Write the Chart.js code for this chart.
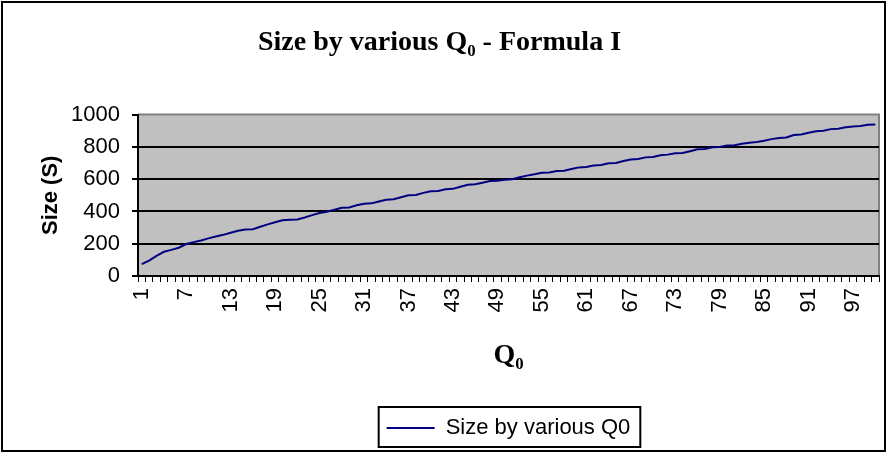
<!DOCTYPE html>
<html>
<head>
<meta charset="utf-8">
<script src="https://cdn.jsdelivr.net/npm/chart.js@4.4.1/dist/chart.umd.min.js"></script>
<style>
html, body { margin: 0; padding: 0; background: #fff; }
</style>
</head>
<body>
<canvas id="chart" width="888" height="454"></canvas>
<script>
// Q0 runs 1..100
const categories = Array.from({length: 100}, (_, i) => String(i + 1));

// Size (S)
const sizeValues = [
    73, 95, 125, 150, 162, 175, 198, 210, 220, 233,
    245, 255, 268, 280, 288, 290, 305, 320, 333, 345,
    348, 350, 362, 377, 390, 398, 410, 423, 425, 438,
    448, 450, 462, 473, 475, 488, 500, 502, 515, 525,
    527, 537, 540, 553, 565, 568, 578, 588, 590, 597,
    600, 612, 622, 630, 640, 642, 650, 652, 663, 673,
    675, 685, 688, 698, 700, 712, 722, 725, 735, 737,
    748, 752, 760, 762, 773, 785, 787, 798, 800, 808,
    810, 820, 825, 830, 838, 848, 855, 858, 873, 877,
    888, 897, 900, 910, 913, 922, 927, 930, 937, 938
];

const xTickLabels = ["1", "7", "13", "19", "25", "31", "37", "43", "49", "55", "61", "67", "73", "79", "85", "91", "97"];
const yTicks = [0, 200, 400, 600, 800, 1000];

const sans = "'Liberation Sans', Arial, sans-serif";
const serif = "'Liberation Serif', 'Times New Roman', serif";

const excelLook = {
    id: 'excelLook',
    beforeDraw(chart) {
        const ctx = chart.ctx;
        const a = chart.chartArea;
        ctx.save();
        ctx.fillStyle = '#fff';
        ctx.fillRect(0, 0, chart.width, chart.height);
        ctx.fillStyle = '#c0c0c0';
        ctx.fillRect(a.left, a.top, a.right - a.left, a.bottom - a.top);
        ctx.strokeStyle = '#808080';
        ctx.lineWidth = 2;
        ctx.beginPath();
        ctx.moveTo(a.left, a.top);
        ctx.lineTo(a.right, a.top);
        ctx.lineTo(a.right, a.bottom);
        ctx.stroke();
        ctx.restore();
    },
    afterLayout(chart) {
        // center legend under the plot, not the canvas
        chart.legend.left = chart.chartArea.left;
        chart.legend.right = chart.chartArea.right;
    },
    afterDraw(chart) {
        const ctx = chart.ctx;
        const lg = chart.legend;
        const hb = lg.legendHitBoxes[0];
        ctx.save();
        ctx.strokeStyle = '#000';
        ctx.lineWidth = 2;
        ctx.strokeRect(hb.left - 8, lg.top + 1, hb.width + 18, lg.height - 3);
        ctx.strokeRect(2, 2, 883, 449);
        ctx.restore();
    }
};

new Chart(document.getElementById("chart"), {
    type: 'line',
    data: {
        labels: categories,
        datasets: [{
            label: "Size by various Q0",
            data: sizeValues,
            borderColor: "#000080",
            backgroundColor: "#000080",
            borderWidth: 2,
            pointRadius: 0,
            tension: 0,
            fill: false
        }]
    },
    options: {
        responsive: false,
        animation: false,
        layout: { padding: { left: 0, right: 9, top: 0, bottom: 5 } },
        plugins: {
            tooltip: { enabled: false },
            title: {
                display: true,
                text: 'Size by various Q₀ - Formula I',
                color: '#000',
                font: { family: serif, size: 28, weight: 'bold' },
                padding: { top: 26, bottom: 55 }
            },
            legend: {
                position: 'bottom',
                labels: {
                    usePointStyle: true,
                    pointStyle: 'line',
                    pointStyleWidth: 48,
                    padding: 11,
                    color: '#000',
                    font: { family: sans, size: 22 }
                }
            }
        },
        scales: {
            x: {
                offset: true,
                ticks: {
                    autoSkip: false,
                    minRotation: 90,
                    maxRotation: 90,
                    padding: 6,
                    color: '#000',
                    font: { family: sans, size: 22 },
                    callback: function (v) {
                        const lab = this.getLabelForValue(v);
                        return xTickLabels.includes(lab) ? lab : '';
                    }
                },
                grid: {
                    offset: true,
                    drawOnChartArea: false,
                    drawTicks: true,
                    tickLength: 6,
                    color: '#000',
                    lineWidth: 1
                },
                border: { color: '#000', width: 2 },
                title: {
                    display: true,
                    text: 'Q₀',
                    color: '#000',
                    font: { family: serif, size: 28, weight: 'bold' },
                    padding: { top: 0, bottom: 33 }
                },
                afterFit(scale) {
                    scale.height = 130;
                    scale.paddingLeft = 0;
                    scale.paddingRight = 0;
                }
            },
            y: {
                min: 0,
                max: 1000,
                afterBuildTicks(scale) { scale.ticks = yTicks.map(v => ({ value: v })); },
                ticks: {
                    color: '#000',
                    padding: 12,
                    font: { family: sans, size: 22 },
                    callback: v => String(v)
                },
                grid: {
                    color: c => (c.tick && c.tick.value === 1000) ? 'rgba(0,0,0,0)' : '#000',
                    tickColor: '#000',
                    lineWidth: 2,
                    tickLength: 6
                },
                border: { color: '#000', width: 2 },
                title: {
                    display: true,
                    text: 'Size (S)',
                    color: '#000',
                    font: { family: sans, size: 22, weight: 'bold' },
                    padding: { top: 38, bottom: 0 }
                },
                afterFit(scale) { scale.width = 138; }
            }
        }
    },
    plugins: [excelLook]
});
</script>
</body>
</html>
